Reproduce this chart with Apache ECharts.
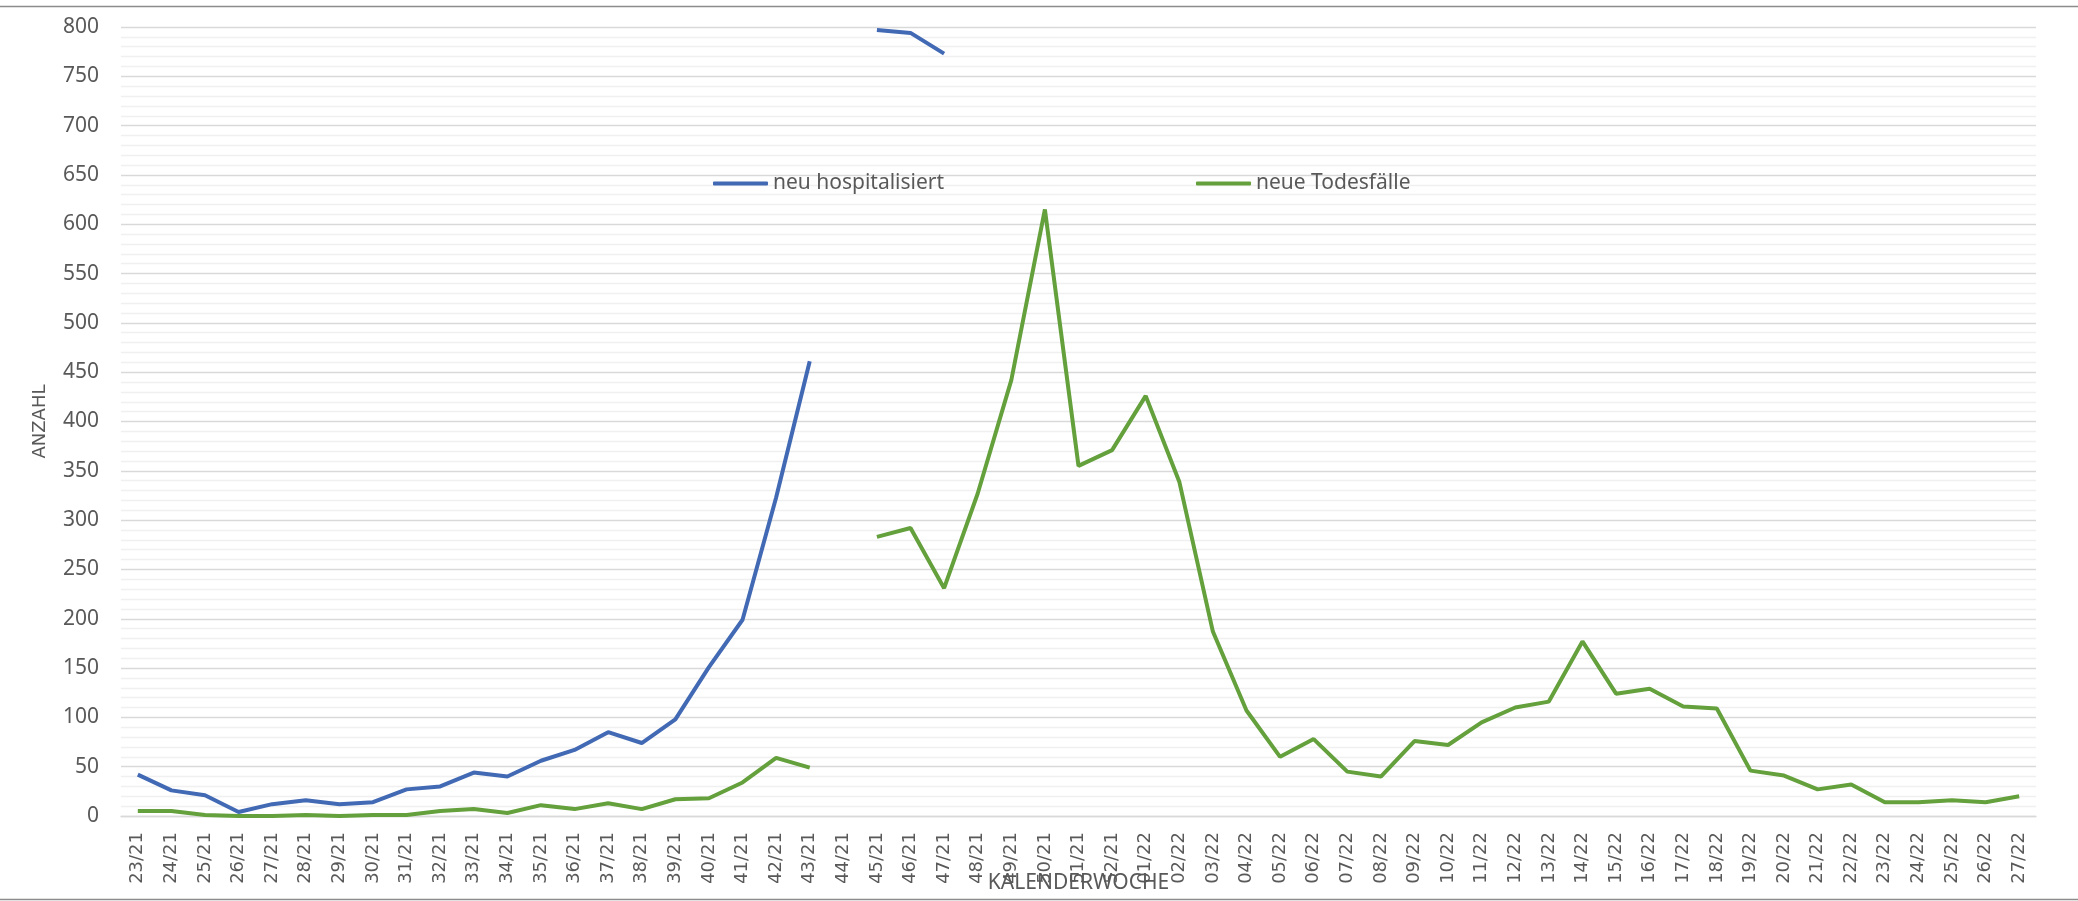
<!DOCTYPE html>
<html>
<head>
<meta charset="utf-8">
<script src="https://cdn.jsdelivr.net/npm/echarts@6/dist/echarts.min.js"></script>
<style>
html,body{margin:0;padding:0;background:#fff;}
#chart{width:2078px;height:901px;}
</style>
</head>
<body>
<div id="chart"></div>
<script>
const categories = ['23/21','24/21','25/21','26/21','27/21','28/21','29/21','30/21','31/21','32/21','33/21','34/21','35/21','36/21','37/21','38/21','39/21','40/21','41/21','42/21','43/21','44/21','45/21','46/21','47/21','48/21','49/21','50/21','51/21','52/21','01/22','02/22','03/22','04/22','05/22','06/22','07/22','08/22','09/22','10/22','11/22','12/22','13/22','14/22','15/22','16/22','17/22','18/22','19/22','20/22','21/22','22/22','23/22','24/22','25/22','26/22','27/22'];

const hospitalisiert = [42,26,21,4,12,16,12,14,27,30,44,40,56,67,85,74,98,151,199,323,461,null,797,794,773,
  null,null,null,null,null,null,null,null,null,null,null,null,null,null,null,null,null,null,null,null,null,null,null,null,null,null,null,null,null,null,null,null];

const todesfaelle = [5,5,1,0,0,1,0,1,1,5,7,3,11,7,13,7,17,18,34,59,49,null,283,292,231,327,442,615,355,371,
  426,339,187,107,60,78,45,40,76,72,95,110,116,177,124,129,111,109,46,41,27,32,14,14,16,14,20];

const yTicks = {min:0, max:800, interval:50};
const seriesNames = ['neu hospitalisiert','neue Todesfälle'];

const chart = echarts.init(document.getElementById('chart'));
const txt = '#595959';
chart.setOption({
  animation:false,
  backgroundColor:'#fff',
  grid:{left:121, right:42, top:27, bottom:85, containLabel:false, outerBoundsMode:'none'},
  legend:[
    {data:[seriesNames[0]], left:713, top:173, padding:0, icon:'roundRect', itemWidth:55, itemHeight:4,
     textStyle:{color:txt, fontSize:21, fontFamily:'Noto Sans'}},
    {data:[seriesNames[1]], left:1196, top:173, padding:0, icon:'roundRect', itemWidth:55, itemHeight:4,
     textStyle:{color:txt, fontSize:21, fontFamily:'Noto Sans'}}
  ],
  xAxis:{
    type:'category', data:categories, boundaryGap:true,
    name:'KALENDERWOCHE', nameLocation:'middle', nameGap:57, nameMoveOverlap:false,
    nameTextStyle:{color:txt, fontSize:21, fontFamily:'Noto Sans'},
    axisLine:{show:true, lineStyle:{color:'#d9d9d9', width:1.3}},
    axisTick:{show:false},
    axisLabel:{interval:0, rotate:90, margin:16, color:txt, fontSize:18, fontFamily:'DejaVu Sans'}
  },
  yAxis:{
    type:'value', min:yTicks.min, max:yTicks.max, interval:yTicks.interval,
    name:'ANZAHL', nameLocation:'middle', nameGap:72, nameRotate:90, nameMoveOverlap:false,
    nameTextStyle:{color:txt, fontSize:18, fontFamily:'DejaVu Sans'},
    axisLine:{show:false}, axisTick:{show:false},
    axisLabel:{margin:22, color:txt, fontSize:21, fontFamily:'Noto Sans'},
    splitLine:{show:true, lineStyle:{color:'#d9d9d9', width:1.3}},
    minorTick:{show:false, splitNumber:5},
    minorSplitLine:{show:true, lineStyle:{color:'#f0f0f0', width:1.3}}
  },
  graphic:[
    {type:'line', shape:{x1:0,y1:6.5,x2:2078,y2:6.5}, style:{stroke:'#8c8c8c', lineWidth:1.5}, silent:true},
    {type:'line', shape:{x1:0,y1:899.5,x2:2078,y2:899.5}, style:{stroke:'#8c8c8c', lineWidth:1.5}, silent:true}
  ],
  series:[
    {name:seriesNames[0], type:'line', data:hospitalisiert, showSymbol:false, connectNulls:false,
     itemStyle:{color:'#4169B4'}, lineStyle:{color:'#4169B4', width:4}},
    {name:seriesNames[1], type:'line', data:todesfaelle, showSymbol:false, connectNulls:false,
     itemStyle:{color:'#64A03C'}, lineStyle:{color:'#64A03C', width:4}}
  ]
});
</script>
</body>
</html>
